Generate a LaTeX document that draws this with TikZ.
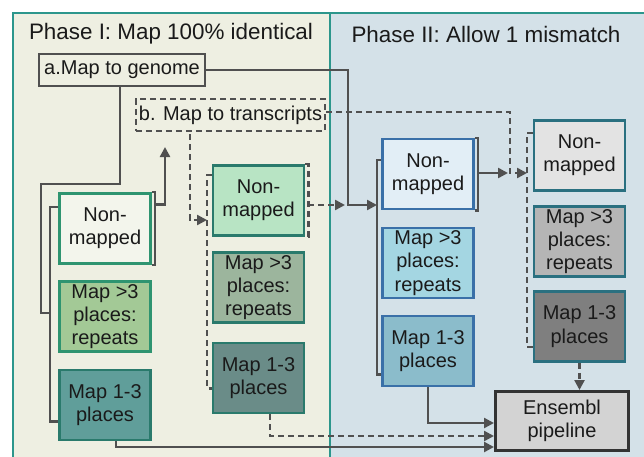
\documentclass[tikz,border=0pt]{standalone}
\usepackage{fontspec}
\setmainfont{Liberation Sans}
\usetikzlibrary{arrows.meta}
\definecolor{paneledge}{RGB}{44,150,140}
\definecolor{phaseone}{RGB}{238,239,226}
\definecolor{phasetwo}{RGB}{212,225,232}
\definecolor{wiregray}{RGB}{80,80,80}
\definecolor{ink}{RGB}{26,26,26}
\definecolor{greenedge}{RGB}{46,148,112}
\definecolor{nonI}{RGB}{243,245,236}
\definecolor{repI}{RGB}{163,201,150}
\definecolor{uniI}{RGB}{96,158,154}
\definecolor{tealedge}{RGB}{42,122,108}
\definecolor{nonIb}{RGB}{184,228,196}
\definecolor{repIb}{RGB}{156,181,157}
\definecolor{uniIb}{RGB}{106,140,136}
\definecolor{blueedge}{RGB}{58,112,168}
\definecolor{nonII}{RGB}{226,238,246}
\definecolor{repII}{RGB}{164,214,226}
\definecolor{uniII}{RGB}{139,188,203}
\definecolor{grayedge}{RGB}{42,112,128}
\definecolor{nonIIb}{RGB}{227,227,227}
\definecolor{repIIb}{RGB}{181,181,181}
\definecolor{uniIIb}{RGB}{127,127,127}
\definecolor{pipe}{RGB}{211,211,211}
\definecolor{pipeedge}{RGB}{51,51,51}
\newcommand{\boxfont}{\fontsize{20}{23.3}\selectfont}
\tikzset{
  hitbox/.style={draw, line width=2.6pt, minimum width=91pt, minimum height=70pt,
    align=center, inner sep=1pt, text=ink, font=\boxfont},
  stepbox/.style={draw=wiregray, line width=2.2pt, minimum height=32pt, inner sep=3pt,
    text=ink, font=\boxfont},
  phase/.style={anchor=base, text=ink, font=\fontsize{22.4}{26}\selectfont},
  wire/.style={draw=wiregray, line width=2.4pt},
  flow/.style={wire, -{Triangle[length=10pt,width=10pt]}},
  dashwire/.style={wire, dash pattern=on 6pt off 4pt},
  dashflow/.style={flow, dash pattern=on 6pt off 4pt},
}

\begin{document}
\begin{tikzpicture}[x=1pt,y=-1pt]
\clip (0,0) rectangle (644,456);
\fill[white] (0,0) rectangle (644,456);
% the two phases
\draw[paneledge, line width=2pt, fill=phaseone] (13,13) rectangle (330,470);
\draw[paneledge, line width=2pt, fill=phasetwo] (330,13) rectangle (660,470);
\node[phase] (titleI) at (171,39.5) {Phase I: Map 100\% identical};
\node[phase] (titleII) at (486,42) {Phase II: Allow 1 mismatch};

% mapping steps
\node[stepbox, minimum width=166pt] (genome) at (122,70) {a.Map to genome};
\node[stepbox, dashwire, minimum width=189pt] (transcripts) at (230.5,115) {b. Map to transcripts};

% phase I, genome hits
\node[hitbox, draw=greenedge, fill=nonI] (nonI) at (105,228.5) {Non-\\mapped};
\node[hitbox, draw=greenedge, fill=repI] (repI) at (105,316.5) {Map >3\\places:\\repeats};
\node[hitbox, draw=tealedge, fill=uniI] (uniI) at (105,405) {Map 1-3\\places};
% phase I, transcript hits
\node[hitbox, draw=tealedge, fill=nonIb] (nonIb) at (258.5,200.5) {Non-\\mapped};
\node[hitbox, draw=tealedge, fill=repIb] (repIb) at (258.5,287.5) {Map >3\\places:\\repeats};
\node[hitbox, draw=tealedge, fill=uniIb] (uniIb) at (258.5,378) {Map 1-3\\places};
% phase II, genome hits
\node[hitbox, draw=blueedge, fill=nonII] (nonII) at (428,174) {Non-\\mapped};
\node[hitbox, draw=blueedge, fill=repII] (repII) at (428,263) {Map >3\\places:\\repeats};
\node[hitbox, draw=blueedge, fill=uniII] (uniII) at (428,351) {Map 1-3\\places};
% phase II, transcript hits
\node[hitbox, draw=grayedge, fill=nonIIb] (nonIIb) at (579.5,155.5) {Non-\\mapped};
\node[hitbox, draw=grayedge, fill=repIIb] (repIIb) at (579.5,241.5) {Map >3\\places:\\repeats};
\node[hitbox, draw=grayedge, fill=uniIIb] (uniIIb) at (579.5,326.5) {Map 1-3\\places};

\node[draw=pipeedge, line width=3pt, fill=pipe, minimum width=133pt, minimum height=59pt,
  align=center, text=ink, font=\boxfont] (ensembl) at (562,421) {Ensembl\\pipeline};

% brackets
\draw[wire] ([yshift=-15pt]nonI.north west) -- ++(-8,0) |- ([yshift=20pt]uniI.south west);
\draw[wire] (nonI.north east) -- ++(3,0) |- (nonI.south east);
\draw[dashwire] ([yshift=-11pt]nonIb.north west) -- ++(-5,0) |- ([yshift=26pt]uniIb.south west);
\draw[dashwire] (nonIb.north east) -- ++(3,0) |- (nonIb.south east);
\draw[wire] ([yshift=-22pt]nonII.north west) -- ++(-4,0) |- ([yshift=13pt]uniII.south west);
\draw[wire] (nonII.north east) -- ++(3,0) |- (nonII.south east);
\draw[dashwire] ([yshift=-14pt]nonIIb.north west) -- ++(-6,0) |- ([yshift=16pt]uniIIb.south west);

% inlets on the brackets
\coordinate (upI) at (165,147);
\coordinate (inIb) at (207,220);
\coordinate (midII) at (345,205);
\coordinate (inII) at (377,205);
\coordinate (outII) at (508,173);
\coordinate (inIIb) at (527,173);

% connectors
\draw[wire] ([xshift=-2pt]genome.south) |- (41,184) |- (50,313);
\draw[flow] (genome.east) -| (348,205) -- (inII);
\draw[flow] ([xshift=3pt,yshift=24pt]nonI.east) -| (upI);
\draw[dashflow] ([xshift=-40.5pt,yshift=-2pt]transcripts.south) |- (inIb);
\draw[dashflow] ([xshift=3pt,yshift=-4.5pt]nonIb.east) -- (midII);
\draw[dashflow] ([yshift=3pt]transcripts.east) -| (510,173) -- (inIIb);
\draw[flow] ([xshift=3pt,yshift=1pt]nonII.east) -- (outII);
\draw[dashflow] (uniIIb.south) -- (uniIIb.south |- ensembl.north);
\draw[flow] (uniII.south) |- ([yshift=-2pt]ensembl.west);
\draw[dashflow] ([xshift=11.5pt]uniIb.south) |- ([yshift=-15pt]ensembl.west);
\draw[flow] ([xshift=11pt]uniI.south) |- ([yshift=-26pt]ensembl.west);
\end{tikzpicture}
\end{document}
